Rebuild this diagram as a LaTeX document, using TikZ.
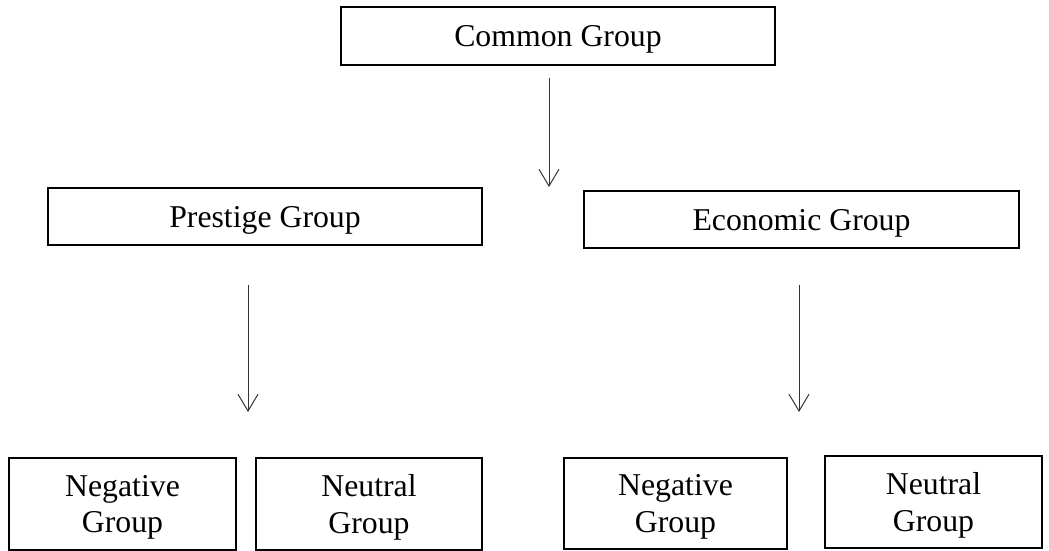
\documentclass[tikz,border=0pt]{standalone}
\usepackage{fontspec}
\setmainfont{Liberation Serif}
\usepackage{tikz}
\usetikzlibrary{arrows.meta}

\tikzset{
  groupbox/.style = {draw, line width=1.4pt, inner sep=0pt, align=center,
                     text depth=-0.05cm,
                     font=\fontsize{22.6}{26.3}\selectfont},
  downarrow/.style = {line width=0.7pt, draw=black!80,
                      -{Straight Barb[length=4.2mm, width=5mm, line width=0.7pt]}}
}

\begin{document}
\begin{tikzpicture}
            \useasboundingbox (0,0) rectangle (26.225,13.775);
            %top level
            \node[groupbox, minimum width=10.85cm, minimum height=1.45cm] (common) at (13.95,12.875) {Common Group};
            %middle level
            \node[groupbox, minimum width=10.85cm, minimum height=1.425cm] (prestige) at (6.625,8.3625) {Prestige Group};
            \node[groupbox, minimum width=10.875cm, minimum height=1.425cm] (economic) at (20.0375,8.2875) {Economic Group};
            %bottom level
            \node[groupbox, minimum width=5.675cm, minimum height=2.3cm] (negprestige) at (3.0625,1.175) {Negative\\Group};
            \node[groupbox, minimum width=5.65cm, minimum height=2.3cm] (neuprestige) at (9.225,1.175) {Neutral\\Group};
            \node[groupbox, minimum width=5.575cm, minimum height=2.275cm] (negeconomic) at (16.8875,1.1875) {Negative\\Group};
            \node[groupbox, minimum width=5.425cm, minimum height=2.3cm] (neueconomic) at (23.3375,1.225) {Neutral\\Group};

            \coordinate (commonout) at (13.725,11.825);
            \coordinate (commonin) at (13.725,9.1);
            \coordinate (prestigeout) at (6.2,6.65);
            \coordinate (prestigein) at (6.2,3.475);
            \coordinate (economicout) at (19.975,6.65);
            \coordinate (economicin) at (19.975,3.475);

            \draw[downarrow] (commonout) -- (commonin);
            \draw[downarrow] (prestigeout) -- (prestigein);
            \draw[downarrow] (economicout) -- (economicin);
\end{tikzpicture}
\end{document}
